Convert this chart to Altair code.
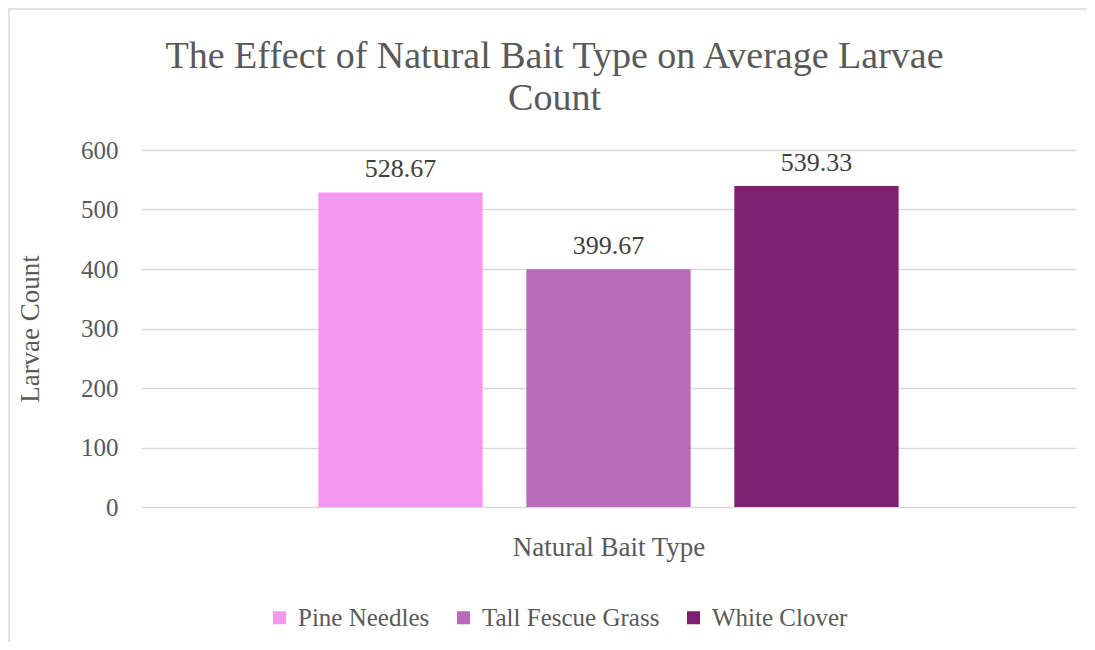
import altair as alt
import pandas as pd

categories = ["Pine Needles", "Tall Fescue Grass", "White Clover"]
values = [528.67, 399.67, 539.33]
colors = ["#F398EE", "#B86BBA", "#7F1F6F"]
y_ticks = [0, 100, 200, 300, 400, 500, 600]

df = pd.DataFrame({"Bait": categories, "Count": values})
df["Label"] = [f"{v:.2f}" for v in values]

FONT = "Liberation Serif"
TXT = "#595959"

base = alt.Chart(df)

bars = base.mark_bar().encode(
    x=alt.X("Bait:N", sort=categories,
            scale=alt.Scale(domain=categories, paddingInner=0.21, paddingOuter=0.853),
            axis=alt.Axis(labels=False, ticks=False, domain=False, grid=False,
                          title="Natural Bait Type", titleFont=FONT, titleFontSize=27,
                          titleFontWeight="normal", titleColor=TXT, titlePadding=27)),
    y=alt.Y("Count:Q", scale=alt.Scale(domain=[0, 600], nice=False),
            axis=alt.Axis(values=y_ticks, ticks=False, domain=False, grid=True,
                          gridColor="#D9D9D9", gridWidth=1.3,
                          labelFont=FONT, labelFontSize=25, labelColor=TXT, labelPadding=23,
                          title="Larvae Count", titleFont=FONT, titleFontSize=27,
                          titleFontWeight="normal", titleColor=TXT, titlePadding=36)),
    color=alt.Color("Bait:N", sort=categories,
                    scale=alt.Scale(domain=categories, range=colors),
                    legend=alt.Legend(title=None, orient="none", direction="horizontal",
                                      legendX=126, legendY=455,
                                      symbolType="square", symbolSize=169,
                                      symbolStrokeWidth=0, labelLimit=400,
                                      labelFont=FONT, labelFontSize=25, labelColor=TXT,
                                      labelOffset=6, columnPadding=21)),
)

labels = base.mark_text(baseline="bottom", dy=-10, font=FONT, fontSize=26, color="#404040").encode(
    x=alt.X("Bait:N", sort=categories),
    y=alt.Y("Count:Q"),
    text="Label:N",
)

border = alt.Chart(pd.DataFrame({"a": [0]})).mark_rect(
    fillOpacity=0, stroke="#D9D9D9", strokeWidth=1.5
).encode(x=alt.value(-132), x2=alt.value(1300), y=alt.value(-141), y2=alt.value(900))

chart = alt.layer(border, bars, labels).properties(
    width=935, height=357,
    title=alt.TitleParams(
        text=["The Effect of Natural Bait Type on Average Larvae", "Count"],
        font=FONT, fontSize=38, fontWeight="normal", color=TXT,
        anchor="middle", frame="group", dx=-54, offset=-110, lineHeight=42,
    ),
    autosize=alt.AutoSizeParams(type="none"),
    padding={"left": 133, "top": 142, "right": 11, "bottom": 135},
).configure(background="white").configure_view(stroke=None)

chart.save("out.html", embed_options={"renderer": "svg", "actions": False})
